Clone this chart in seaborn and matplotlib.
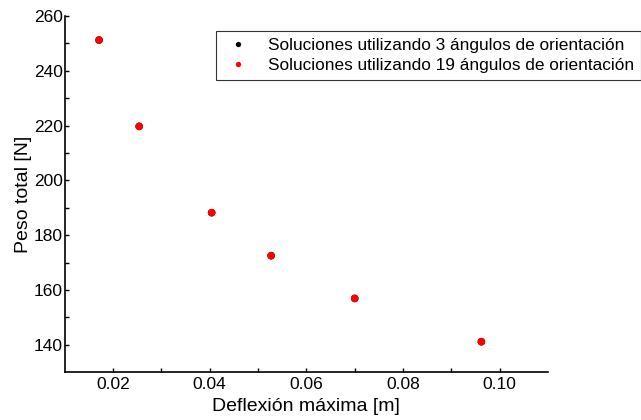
import matplotlib
matplotlib.use("Agg")
import matplotlib.pyplot as plt
import seaborn as sns
import pandas as pd

# deflexion maxima [m] y peso total [N]
deflexion = [0.0171, 0.0254, 0.0404, 0.0527, 0.0700, 0.0962]
peso_3 = [251.2, 219.7, 188.2, 172.5, 156.9, 141.1]
peso_19 = [251.2, 219.7, 188.2, 172.5, 156.9, 141.1]
series = ["Soluciones utilizando 3 ángulos de orientación",
          "Soluciones utilizando 19 ángulos de orientación"]

df = pd.DataFrame({
    "x": deflexion + deflexion,
    "y": peso_3 + peso_19,
    "serie": [series[0]] * len(peso_3) + [series[1]] * len(peso_19),
})

sns.set_style("ticks", {"text.color": "black", "axes.labelcolor": "black",
                        "xtick.color": "black", "ytick.color": "black",
                        "axes.edgecolor": "black"})
plt.rcParams['font.family'] = ['Liberation Sans', 'DejaVu Sans']

fig = plt.figure(figsize=(6.41, 4.2), dpi=100)
ax = fig.add_axes([0.101, 0.114, 0.754, 0.848])
sns.scatterplot(data=df, x="x", y="y", hue="serie",
                palette={series[0]: "black", series[1]: "red"},
                s=30, edgecolor="none", ax=ax)

ax.set_xlim(0.01, 0.11)
ax.set_ylim(130, 260)
ax.set_xticks([0.02, 0.04, 0.06, 0.08, 0.10])
ax.set_xticklabels(["0.02", "0.04", "0.06", "0.08", "0.10"])
ax.set_xticks([0.03, 0.05, 0.07, 0.09], minor=True)
ax.set_yticks([140, 160, 180, 200, 220, 240, 260])
ax.set_yticks([150, 170, 190, 210, 230, 250], minor=True)
ax.tick_params(which="both", direction="in", labelsize=12.5, length=3, width=1)
ax.tick_params(axis="y", pad=1.5)
sns.despine(ax=ax)
for s in ["left", "bottom"]:
    ax.spines[s].set_linewidth(1.2)

ax.set_xlabel("Deflexión máxima [m]", fontsize=14)
ax.set_ylabel("Peso total [N]", fontsize=14, labelpad=1)

leg = ax.legend(loc="upper left", bbox_to_anchor=(0.313, 0.958), fontsize=12.4,
                frameon=True, fancybox=False, handletextpad=0.8,
                borderpad=0.4, labelspacing=0.3, handlelength=1.8,
                markerscale=0.7, borderaxespad=0)
leg.get_frame().set_edgecolor("black")
leg.get_frame().set_linewidth(0.8)
leg.set_title(None)

fig.savefig("out.png", dpi=100)
